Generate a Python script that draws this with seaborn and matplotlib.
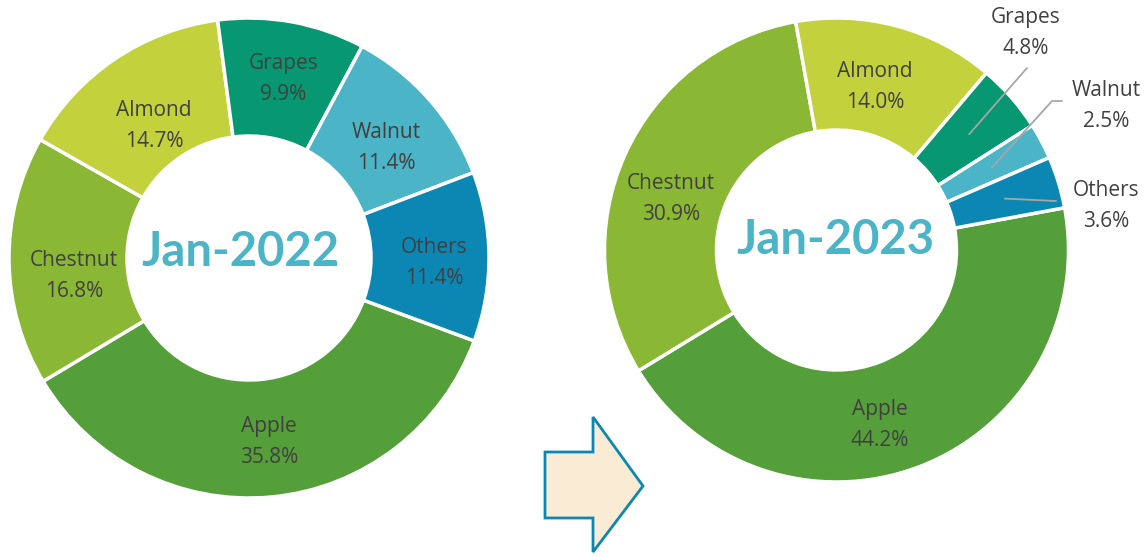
import matplotlib
matplotlib.use("Agg")
import matplotlib.pyplot as plt
import seaborn as sns
import numpy as np
from matplotlib.patches import Polygon

# ---------------- data ----------------
categories = ["Apple", "Chestnut", "Almond", "Grapes", "Walnut", "Others"]
values_2022 = [35.8, 16.8, 14.7, 9.9, 11.4, 11.4]
values_2023 = [44.2, 30.9, 14.0, 4.8, 2.5, 3.6]
titles = ["Jan-2022", "Jan-2023"]
colors_hex = ["#559F3A", "#8BB834", "#C3D13C", "#079773", "#4BB5C7", "#0C87B3"]

# ---------------- style ----------------
sns.set_theme(style="white")
plt.rcParams["font.family"] = ["Open Sans", "DejaVu Sans"]
palette = sns.color_palette(colors_hex)
LABEL_COLOR = "#404040"
TITLE_COLOR = "#4BB5C7"
LABEL_SIZE = 15
LINE_SP = 1.62
GLOBAL_DY = 3

W, H = 1148, 557
fig = plt.figure(figsize=(W / 100, H / 100), dpi=100)
ax = fig.add_axes([0, 0, 1, 1])


def to_up(y):
    return H - y


def donut(values, cx, cy, r_out, r_in, start_cw, title, title_dx, title_dy,
          nudges, outside=None):
    center = (cx, to_up(cy))
    wedges, _ = ax.pie(values, colors=palette, radius=r_out, center=center,
                       startangle=90 - start_cw, counterclock=False,
                       wedgeprops=dict(width=r_out - r_in, edgecolor="white",
                                       linewidth=2.5),
                       normalize=True)
    r_mid = (r_out + r_in) / 2
    for cat, val, w in zip(categories, values, wedges):
        th = np.deg2rad((w.theta1 + w.theta2) / 2)
        px = center[0] + r_mid * np.cos(th)
        py = center[1] + r_mid * np.sin(th)
        txt = f"{cat}\n{val:.1f}%"
        if outside and cat in outside:
            lx, ly, path = outside[cat]
            pts = [(px, py)] + [(x, to_up(y)) for x, y in path]
            ax.plot([p[0] for p in pts], [p[1] for p in pts],
                    color="#A6A6A6", lw=1.3, zorder=5)
            ax.text(lx, to_up(ly + GLOBAL_DY), txt, ha="center", va="center",
                    fontsize=LABEL_SIZE, color=LABEL_COLOR,
                    linespacing=LINE_SP)
        else:
            dx, dy = nudges.get(cat, (0, 0))
            ax.text(px + dx, py - dy - GLOBAL_DY, txt, ha="center",
                    va="center", fontsize=LABEL_SIZE, color=LABEL_COLOR,
                    linespacing=LINE_SP, zorder=5)
    ax.text(cx + title_dx, to_up(cy + title_dy), title, ha="center",
            va="center", fontsize=34, fontweight="bold", color=TITLE_COLOR,
            family=["Lato", "DejaVu Sans"])


# label nudges (pixels, y downward) to mimic the original label placement
nudges_2022 = {"Apple": (3, 1), "Chestnut": (6, 13), "Almond": (6, 15),
               "Grapes": (2, -4), "Walnut": (1, 7), "Others": (4, 3)}
nudges_2023 = {"Apple": (-20, 8), "Chestnut": (-5, 18), "Almond": (-7, 4)}

donut(values_2022, 249, 258, 240, 122, 110.2, titles[0], -8, -6, nudges_2022)

outside_2023 = {
    "Grapes": (1026, 30, [(1027, 68)]),
    "Walnut": (1106, 103, [(1052, 101), (1062, 101)]),
    "Others": (1106, 203, [(1056, 201)]),
}
donut(values_2023, 836.5, 250, 232, 120, 79.5, titles[1], -1, -10,
      nudges_2023, outside=outside_2023)

# arrow shape
arrow_pts = [(545, 452), (593, 452), (593, 417), (643, 486), (593, 552),
             (593, 518), (545, 518)]
ax.add_patch(Polygon([(x, to_up(y)) for x, y in arrow_pts], closed=True,
                     facecolor="#FAEBD5", edgecolor="#0C87B3", lw=2,
                     joinstyle="miter"))

ax.set_xlim(0, W)
ax.set_ylim(0, H)
ax.set_aspect("equal")
ax.axis("off")

fig.savefig("out.png", dpi=100)
